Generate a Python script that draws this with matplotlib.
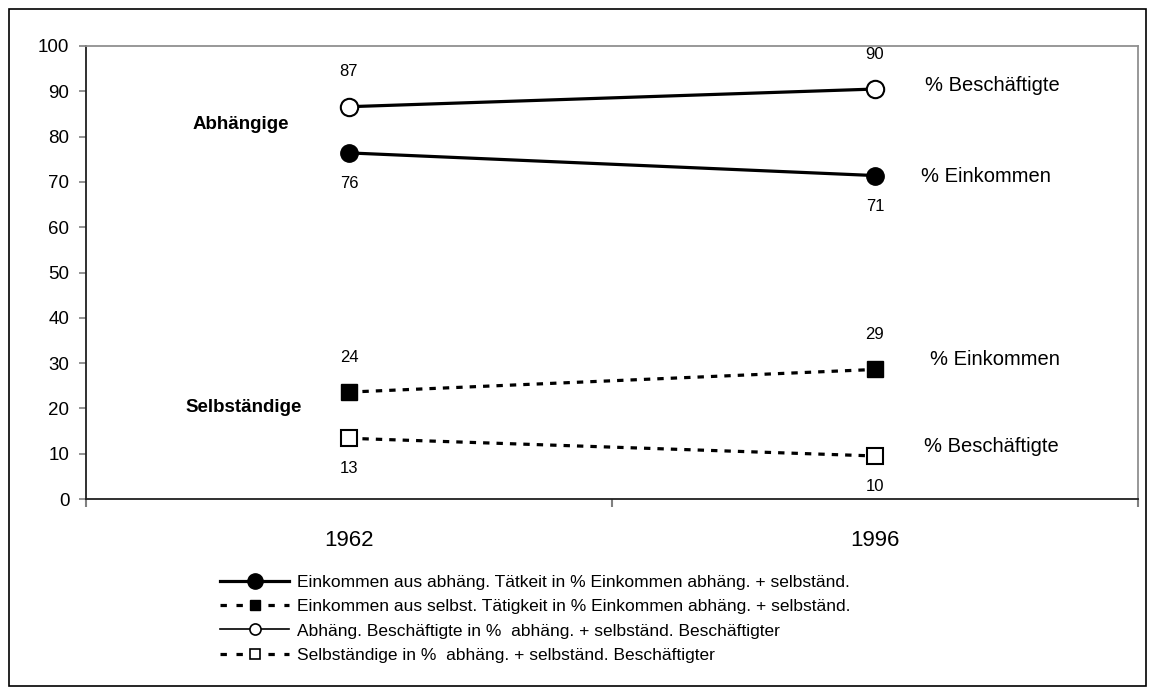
import matplotlib
matplotlib.use("Agg")
import matplotlib.pyplot as plt
from matplotlib.lines import Line2D
from matplotlib.patches import Rectangle

years = ["1962", "1996"]
abh_einkommen = [76.4, 71.4]
selb_einkommen = [23.6, 28.6]
abh_besch = [86.6, 90.5]
selb_besch = [13.4, 9.5]
y_ticks = [0, 10, 20, 30, 40, 50, 60, 70, 80, 90, 100]
legend_labels = [
    "Einkommen aus abhäng. Tätkeit in % Einkommen abhäng. + selbständ.",
    "Einkommen aus selbst. Tätigkeit in % Einkommen abhäng. + selbständ.",
    "Abhäng. Beschäftigte in %  abhäng. + selbständ. Beschäftigter",
    "Selbständige in %  abhäng. + selbständ. Beschäftigter",
]

plt.rcParams['font.family'] = ['Liberation Sans', 'DejaVu Sans']

fig = plt.figure(figsize=(11.56, 6.95), dpi=100)
fig.patches.append(Rectangle((9/1156, 9/695), (1146-9)/1156, (686-9)/695,
                             transform=fig.transFigure, fill=False,
                             edgecolor='black', linewidth=1.2))

ax = fig.add_axes([86/1156, 196/695, (1138-86)/1156, (499-46)/695])
x = list(range(len(years)))

lw = 2.3
ax.plot(x, abh_besch, color='black', lw=lw, marker='o', ms=12.5,
        mfc='white', mec='black', mew=1.5, zorder=3)
ax.plot(x, abh_einkommen, color='black', lw=lw, marker='o', ms=12.5,
        mfc='black', mec='black', zorder=3)
ax.plot(x, selb_einkommen, color='black', lw=lw, ls=(0, (2, 2.2)), marker='s',
        ms=12, mfc='black', mec='black', zorder=3)
ax.plot(x, selb_besch, color='black', lw=lw, ls=(0, (2, 2.2)), marker='s',
        ms=12, mfc='white', mec='black', mew=1.5, zorder=3)

def lab(series, above):
    for xi, v in zip(x, series):
        ax.annotate(f"{v:.0f}", (xi, v), xytext=(0, 25 if above else -22),
                    textcoords='offset points', ha='center', va='center',
                    fontsize=12)

lab(abh_besch, True)
lab(abh_einkommen, False)
lab(selb_einkommen, True)
lab(selb_besch, False)

ax.text(-0.205, 82.6, "Abhängige", fontsize=13.5, fontweight='bold',
        ha='center', va='center')
ax.text(-0.2, 20.1, "Selbständige", fontsize=13.5, fontweight='bold',
        ha='center', va='center')
ax.text(1.095, 91.2, "% Beschäftigte", fontsize=14.5, ha='left', va='center')
ax.text(1.088, 71.1, "% Einkommen", fontsize=14.5, ha='left', va='center')
ax.text(1.105, 30.7, "% Einkommen", fontsize=14.5, ha='left', va='center')
ax.text(1.093, 11.5, "% Beschäftigte", fontsize=14.5, ha='left', va='center')

ax.set_xlim(-0.5, 1.5)
ax.set_ylim(0, 100)
ax.set_yticks(y_ticks)
ax.set_yticklabels([str(t) for t in y_ticks], fontsize=13.5)
ax.set_xticks([-0.5, 0.5, 1.5])
ax.set_xticklabels([])
ax.set_xticks(x, minor=True)
ax.set_xticklabels(years, minor=True, fontsize=16)
ax.tick_params(axis='x', which='minor', length=0, pad=22)
ax.tick_params(axis='x', which='major', length=6, color='#808080', width=1.5)
ax.tick_params(axis='y', length=5, color='#808080', width=1.2, pad=7)

for s in ['top', 'right']:
    ax.spines[s].set_color('#909090')
    ax.spines[s].set_linewidth(1.3)
for s in ['left', 'bottom']:
    ax.spines[s].set_color('#202020')
    ax.spines[s].set_linewidth(1.3)

handles = [
    Line2D([], [], color='black', lw=2.3, marker='o', ms=11, mfc='black', mec='black'),
    Line2D([], [], color='black', lw=2.3, ls=(0, (2, 3)), marker='s', ms=7, mfc='black', mec='black'),
    Line2D([], [], color='black', lw=1.2, marker='o', ms=8, mfc='white', mec='black', mew=1.2),
    Line2D([], [], color='black', lw=2.3, ls=(0, (2, 3)), marker='s', ms=7, mfc='white', mec='black', mew=1.2),
]
fig.legend(handles, legend_labels, loc='upper left',
           bbox_to_anchor=(220/1156, 1 - 575/695), frameon=False,
           fontsize=12.5, handlelength=4.0, handletextpad=0.45,
           labelspacing=0.52, borderpad=0, borderaxespad=0)

fig.savefig("out.png", dpi=100)
